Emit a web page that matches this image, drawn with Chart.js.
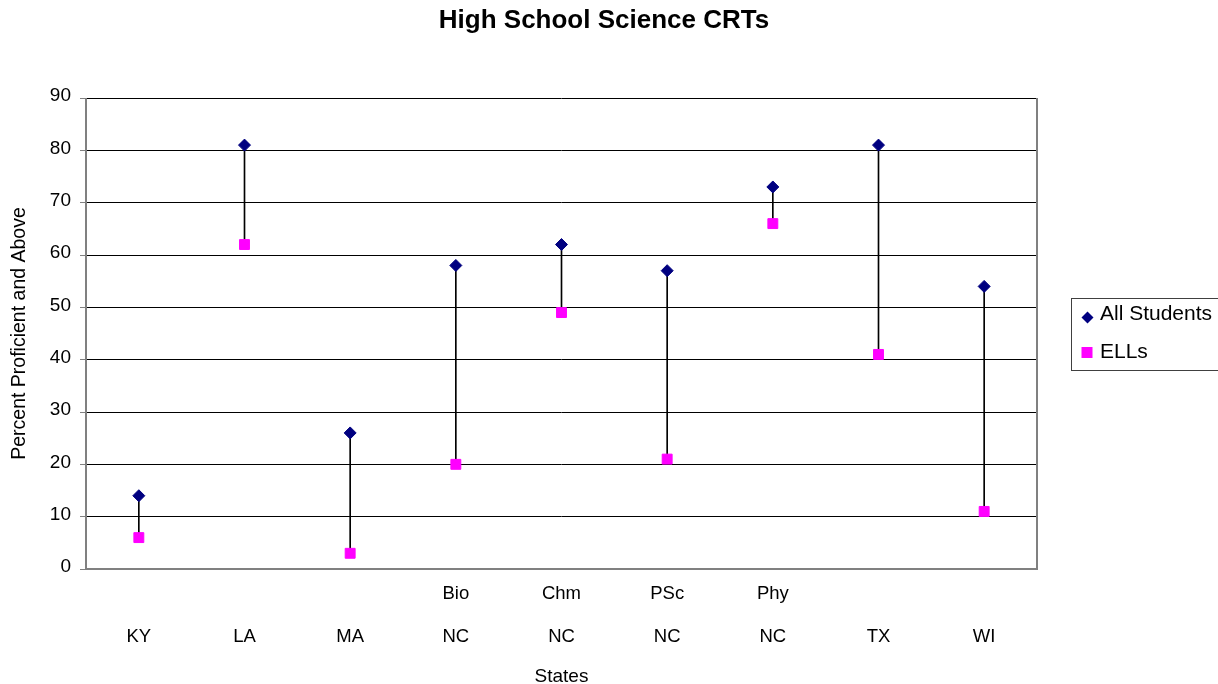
<!DOCTYPE html>
<html>
<head>
<meta charset="utf-8">
<title>High School Science CRTs</title>
<script src="https://cdn.jsdelivr.net/npm/chart.js"></script>
<style>
  html, body { margin: 0; padding: 0; background: #fff; }
  #wrap { width: 1218px; height: 684px; position: relative; }
</style>
</head>
<body>
<div id="wrap"><canvas id="chart" width="1218" height="684"></canvas></div>
<script>
// Category labels: state on the bottom line, subject (where given) above it
const stateLabels = ['KY', 'LA', 'MA', 'NC', 'NC', 'NC', 'NC', 'TX', 'WI'];
const subjectLabels = ['', '', '', 'Bio', 'Chm', 'PSc', 'Phy', '', ''];

// Percent proficient and above
const allStudents = [14, 81, 26, 58, 62, 57, 73, 81, 54];
const ells = [6, 62, 3, 20, 49, 21, 66, 41, 11];

// Y axis ticks
const yTicks = [0, 10, 20, 30, 40, 50, 60, 70, 80, 90];

const seriesNames = ['All Students', 'ELLs'];
const chartTitle = 'High School Science CRTs';
const xTitle = 'States';
const yTitle = 'Percent Proficient and Above';

const FONT = "'Liberation Sans', Arial, Helvetica, sans-serif";
const NAVY = '#000080';
const MAGENTA = '#FF00FF';

const categories = stateLabels.map((s, i) => [subjectLabels[i], s]);
const gapRanges = ells.map((v, i) => [v, allStudents[i]]);

// Page title, centred over the whole figure
const titlePlugin = {
  id: 'pageTitle',
  afterDraw(chart) {
    const { ctx } = chart;
    ctx.save();
    ctx.fillStyle = '#000';
    ctx.font = 'bold 26px ' + FONT;
    ctx.textAlign = 'center';
    ctx.textBaseline = 'middle';
    ctx.fillText(chartTitle, 604, 21);
    ctx.restore();
  }
};

// Plot-area frame (left, right, bottom in grey; top edge is the 90 gridline)
const framePlugin = {
  id: 'frame',
  beforeDatasetsDraw(chart) {
    const { ctx, chartArea: a } = chart;
    ctx.save();
    ctx.strokeStyle = '#808080';
    ctx.lineWidth = 2;
    ctx.beginPath();
    ctx.moveTo(a.left, a.top);
    ctx.lineTo(a.left, a.bottom);
    ctx.lineTo(a.right, a.bottom);
    ctx.lineTo(a.right, a.top);
    ctx.stroke();
    ctx.restore();
  }
};

// Boxed legend to the right of the plot area
const boxLegendPlugin = {
  id: 'boxLegend',
  afterDraw(chart) {
    const { ctx } = chart;
    ctx.save();
    ctx.strokeStyle = '#404040';
    ctx.lineWidth = 1;
    ctx.strokeRect(1071.5, 298.5, 150, 72);

    // diamond marker
    const dx = 1087.5, dy = 317.5, r = 6;
    ctx.fillStyle = NAVY;
    ctx.beginPath();
    ctx.moveTo(dx - r, dy);
    ctx.lineTo(dx, dy - r);
    ctx.lineTo(dx + r, dy);
    ctx.lineTo(dx, dy + r);
    ctx.closePath();
    ctx.fill();

    // square marker
    ctx.fillStyle = MAGENTA;
    ctx.fillRect(1081.5, 347, 11, 11);

    ctx.fillStyle = '#000';
    ctx.font = '21px ' + FONT;
    ctx.textAlign = 'left';
    ctx.textBaseline = 'alphabetic';
    ctx.fillText(seriesNames[0], 1100, 320);
    ctx.fillText(seriesNames[1], 1100, 358);
    ctx.restore();
  }
};

new Chart(document.getElementById('chart'), {
  type: 'bar',
  data: {
    labels: categories,
    datasets: [
      {
        type: 'line',
        label: seriesNames[0],
        data: allStudents,
        showLine: false,
        pointStyle: 'rectRot',
        pointRadius: 6,
        pointBorderWidth: 1,
        backgroundColor: NAVY,
        borderColor: NAVY,
        order: 1
      },
      {
        type: 'line',
        label: seriesNames[1],
        data: ells,
        showLine: false,
        pointStyle: 'rect',
        pointRadius: 7,
        pointBorderWidth: 1,
        backgroundColor: MAGENTA,
        borderColor: MAGENTA,
        order: 2
      },
      {
        type: 'bar',
        label: 'gap',
        data: gapRanges,
        barThickness: 1,
        backgroundColor: '#000',
        borderWidth: 0,
        order: 3
      }
    ]
  },
  options: {
    responsive: false,
    animation: false,
    events: [],
    layout: { padding: { left: 0, right: 181, top: 98, bottom: 0 } },
    plugins: {
      legend: { display: false },
      tooltip: { enabled: false },
      title: { display: false }
    },
    scales: {
      x: {
        grid: { display: false },
        border: { display: false },
        ticks: {
          color: '#000',
          padding: -5,
          maxRotation: 0,
          autoSkip: false,
          font: { family: FONT, size: 18.5, lineHeight: '43px' }
        },
        title: {
          display: true,
          text: xTitle,
          color: '#000',
          font: { family: FONT, size: 19, lineHeight: 1 },
          padding: { top: 0, bottom: -2 }
        },
        afterFit(scale) { scale.height = 115; }
      },
      y: {
        min: 0,
        max: 90,
        afterBuildTicks(scale) { scale.ticks = yTicks.map(v => ({ value: v })); },
        grid: {
          color: '#000',
          lineWidth: 1,
          drawTicks: true,
          tickLength: 6,
          tickColor: '#808080'
        },
        border: { display: false },
        ticks: {
          color: '#000',
          padding: 9,
          labelOffset: -2,
          font: { family: FONT, size: 19 }
        },
        title: {
          display: true,
          text: yTitle,
          color: '#000',
          font: { family: FONT, size: 19.5, lineHeight: 1 },
          padding: { top: 10, bottom: 0 }
        },
        afterFit(scale) { scale.width = 86; }
      }
    }
  },
  plugins: [framePlugin, titlePlugin, boxLegendPlugin]
});
</script>
</body>
</html>
